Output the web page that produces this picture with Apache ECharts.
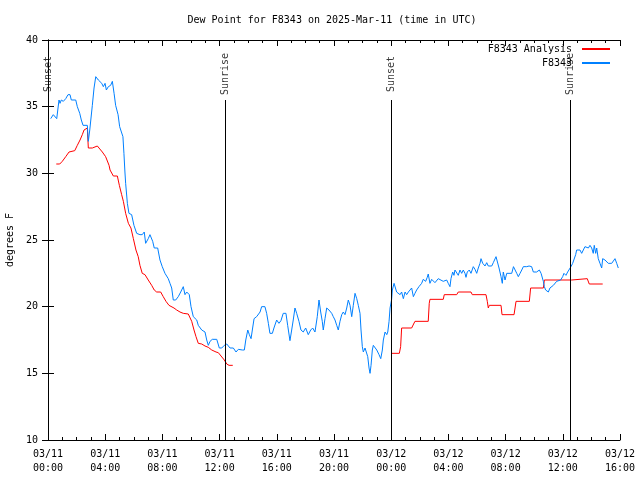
<!DOCTYPE html>
<html>
<head>
<meta charset="utf-8">
<script src="https://cdn.jsdelivr.net/npm/echarts@6/dist/echarts.min.js"></script>
<style>html,body{margin:0;padding:0;background:#fff;}#c{width:640px;height:480px;}</style>
</head>
<body>
<div id="c"></div>
<script>
// Hours since 2025-03-11 00:00 UTC
const obsHours = [0.19,0.37,0.49,0.61,0.77,0.84,0.93,1.07,1.24,1.40,1.54,1.63,1.94,2.05,2.22,2.33,2.45,2.75,2.82,2.92,2.99,3.10,3.22,3.34,3.45,3.52,3.64,3.76,3.87,3.99,4.08,4.22,4.38,4.50,4.62,4.73,4.90,5.01,5.13,5.24,5.31,5.38,5.43,5.55,5.66,5.85,6.01,6.20,6.43,6.59,6.73,6.83,7.01,7.13,7.32,7.43,7.67,7.83,7.99,8.18,8.41,8.53,8.65,8.76,8.93,9.11,9.28,9.46,9.58,9.70,9.88,10.00,10.16,10.40,10.51,10.75,10.98,11.10,11.21,11.33,11.49,11.80,11.98,12.15,12.33,12.50,12.61,12.73,12.96,13.15,13.31,13.43,13.59,13.73,13.83,13.97,14.08,14.20,14.31,14.41,14.59,14.71,14.83,14.94,15.17,15.29,15.41,15.52,15.69,15.80,15.99,16.15,16.29,16.45,16.64,16.76,16.92,17.04,17.15,17.27,17.39,17.55,17.69,17.85,18.02,18.20,18.37,18.51,18.67,18.74,18.83,18.95,19.07,19.18,19.25,19.37,19.49,19.65,19.84,19.95,20.07,20.19,20.30,20.42,20.54,20.65,20.77,20.89,21.00,21.12,21.24,21.35,21.47,21.59,21.70,21.82,21.89,21.98,22.05,22.17,22.29,22.36,22.45,22.52,22.59,22.68,22.75,22.87,22.99,23.15,23.27,23.38,23.45,23.57,23.69,23.76,23.85,23.92,24.03,24.08,24.20,24.31,24.38,24.50,24.62,24.73,24.85,24.97,25.08,25.20,25.31,25.43,25.55,25.66,25.78,25.94,26.13,26.24,26.41,26.52,26.59,26.71,26.83,26.94,27.06,27.29,27.41,27.64,27.76,27.88,27.99,28.11,28.18,28.30,28.39,28.46,28.58,28.69,28.81,28.93,29.04,29.16,29.23,29.32,29.46,29.58,29.74,29.86,29.98,30.09,30.21,30.28,30.40,30.56,30.68,30.79,31.03,31.14,31.33,31.42,31.54,31.61,31.68,31.77,31.84,31.96,32.08,32.43,32.55,32.66,32.78,32.89,33.01,33.13,33.24,33.48,33.64,33.82,33.94,34.06,34.17,34.36,34.48,34.57,34.64,34.71,34.80,34.87,34.99,35.10,35.22,35.34,35.45,35.57,35.69,35.85,35.99,36.08,36.22,36.34,36.43,36.57,36.69,36.80,36.90,36.97,37.20,37.32,37.43,37.55,37.67,37.79,37.90,38.02,38.13,38.20,38.30,38.37,38.48,38.60,38.72,38.79,38.95,39.07,39.18,39.30,39.42,39.53,39.65,39.77,39.88];
const obsValues = [34.1,34.4,34.5,34.1,35.5,35.25,35.5,35.4,35.6,35.9,35.9,35.5,35.5,35.0,34.5,34.0,33.6,33.6,32.4,33.25,33.4,35.1,36.4,37.25,37.4,37.0,37.1,36.75,36.5,36.75,36.25,36.5,36.6,36.9,36.0,35.1,34.4,33.5,33.4,32.75,31.5,30.1,29.25,27.75,27.0,26.9,26.1,25.5,25.4,25.4,25.6,24.75,25.1,25.4,24.9,24.4,24.4,23.5,23.0,22.5,22.1,21.75,21.4,20.5,20.5,20.75,21.1,21.5,20.9,21.1,20.9,20.0,19.25,19.0,18.6,18.25,18.1,17.5,17.1,17.4,17.55,17.55,16.9,16.9,17.1,17.2,17.2,16.9,16.9,16.6,16.8,16.95,16.75,16.75,17.5,18.25,17.9,17.6,18.4,19.1,19.25,19.25,19.6,20.0,20.0,19.5,18.75,18.0,18.0,18.4,19.0,18.75,18.95,19.5,19.5,18.6,17.45,18.25,19.0,19.9,19.5,18.9,18.25,18.1,18.4,17.9,18.25,18.4,18.1,18.0,19.25,20.5,19.6,18.9,18.25,19.1,19.9,19.75,19.5,19.25,19.0,18.6,18.25,18.9,19.4,19.6,19.4,19.9,20.5,20.1,19.25,20.1,21.0,20.6,20.1,19.5,18.25,17.0,16.6,16.9,17.05,16.25,15.4,15.0,15.6,16.75,17.1,17.0,16.75,16.4,16.1,16.75,17.5,18.1,17.9,18.1,18.9,19.9,20.55,21.25,21.75,21.8,21.1,21.25,20.9,21.1,20.6,21.1,20.9,21.1,21.25,21.4,20.75,21.0,21.25,21.5,21.75,22.05,21.9,22.2,22.45,21.75,22.05,22.05,21.8,22.1,22.1,21.9,21.75,22.0,21.75,21.5,22.1,22.6,22.35,22.75,22.75,22.35,22.75,22.5,22.75,22.5,22.2,22.6,22.75,22.5,23.0,22.8,22.5,22.9,23.25,23.6,23.25,23.05,23.3,23.05,23.05,23.3,23.75,23.6,22.9,22.75,22.25,21.75,22.6,22.0,22.5,22.5,23.0,23.1,22.5,22.25,22.5,22.75,23.0,23.0,23.05,23.0,22.6,22.75,22.6,22.75,22.5,22.6,21.9,21.5,21.25,21.4,21.1,21.4,21.5,21.6,21.6,21.9,22.0,22.0,22.25,22.5,22.35,22.6,22.6,23.0,23.25,23.4,23.9,24.25,24.25,24.0,24.0,24.5,24.6,24.4,24.6,24.4,24.0,24.6,24.0,24.4,23.6,23.25,22.9,23.6,23.5,23.4,23.25,23.1,23.25,23.4,23.6,23.25,22.9];

const anaHours = [0.58,0.82,1.00,1.24,1.47,1.59,1.87,2.05,2.24,2.40,2.52,2.64,2.75,2.82,3.10,3.45,3.57,3.80,4.03,4.27,4.34,4.57,4.85,4.99,5.15,5.27,5.43,5.62,5.80,5.97,6.15,6.31,6.43,6.59,6.78,7.01,7.25,7.43,7.60,7.88,8.06,8.25,8.46,8.58,8.81,9.00,9.23,9.46,9.81,9.93,10.05,10.21,10.35,10.51,10.75,10.98,11.21,11.45,11.75,11.91,12.10,12.33,12.50,12.66,12.92,
  18.0,
  24.03,24.57,24.66,24.73,25.43,25.55,25.66,26.59,26.66,26.71,27.64,27.71,28.58,28.69,29.58,29.67,30.63,30.72,30.79,30.86,31.68,31.75,32.59,32.73,33.66,33.75,34.64,34.71,36.62,36.69,37.71,37.85,38.79];
const anaValues = [30.7,30.7,30.9,31.25,31.6,31.7,31.7,32.1,32.5,32.9,33.25,33.4,33.4,31.9,31.9,32.05,32.05,31.6,31.25,30.6,30.25,29.8,29.8,29.1,28.4,27.9,27.0,26.25,25.9,25.1,24.25,23.75,23.1,22.5,22.4,22.0,21.6,21.25,21.1,21.1,20.75,20.4,20.1,19.95,19.9,19.75,19.6,19.5,19.45,19.4,18.9,18.25,17.75,17.25,17.2,17.05,16.95,16.75,16.6,16.55,16.3,16.0,15.7,15.6,15.6,
  null,
  16.5,16.5,17.0,18.4,18.4,18.25,18.9,18.9,20.25,20.55,20.55,20.9,20.9,21.1,21.1,20.9,20.9,20.4,19.9,20.1,20.1,19.4,19.4,20.4,20.4,21.4,21.4,22.0,22.0,22.1,22.1,21.7,21.7];

const eventHours = [0.0, 12.40, 23.99, 36.53];
const eventLabels = ['Sunset', 'Sunrise', 'Sunset', 'Sunrise'];

const xTickLabels = ['03/11\n00:00','03/11\n04:00','03/11\n08:00','03/11\n12:00','03/11\n16:00','03/11\n20:00','03/12\n00:00','03/12\n04:00','03/12\n08:00','03/12\n12:00','03/12\n16:00'];

const FONT = 'DejaVu Sans Mono';
const obsData = obsHours.map((h, i) => [h, obsValues[i]]);
const anaData = anaHours.map((h, i) => [h, anaValues[i]]);
const eventLines = eventHours.map(h => [{coord: [h, 10]}, {coord: [h, 35.5]}]);
const eventText = eventHours.map((h, i) => [h, 37.45, eventLabels[i]]);

const chart = echarts.init(document.getElementById('c'), null, {renderer: 'canvas'});
const axisCommon = {
  axisLine: {show: true, lineStyle: {color: '#000', width: 1}},
  splitLine: {show: false}
};
chart.setOption({
  animation: false,
  backgroundColor: '#fff',
  title: {
    text: 'Dew Point for F8343 on 2025-Mar-11 (time in UTC)',
    left: 327, textAlign: 'center', top: 10,
    textStyle: {fontFamily: FONT, fontSize: 10, fontWeight: 'normal', color: '#000'}
  },
  legend: {
    data: ['F8343 Analysis', 'F8343'],
    orient: 'vertical', align: 'right', right: 30, top: 44, padding: 0,
    itemWidth: 28, itemHeight: 2, itemGap: 4, icon: 'rect',
    textStyle: {fontFamily: FONT, fontSize: 10, color: '#000', padding: [0, 5, 0, 0]}
  },
  grid: {left: 48, right: 20, top: 40, bottom: 40, containLabel: false, outerBoundsMode: 'none'},
  xAxis: [
    Object.assign({
      type: 'value', min: 0, max: 40, interval: 4, position: 'bottom',
      axisTick: {show: true, inside: true, length: 6, lineStyle: {color: '#000'}},
      minorTick: {show: true, splitNumber: 4, length: 3, lineStyle: {color: '#000'}},
      axisLabel: {
        fontFamily: FONT, fontSize: 10, color: '#000', margin: 7, lineHeight: 14,
        formatter: v => xTickLabels[Math.round(v / 4)]
      }
    }, axisCommon),
    Object.assign({
      type: 'value', min: 0, max: 40, interval: 4, position: 'top',
      axisTick: {show: true, inside: true, length: 6, lineStyle: {color: '#000'}},
      minorTick: {show: true, splitNumber: 4, length: 3, lineStyle: {color: '#000'}},
      axisLabel: {show: false}
    }, axisCommon)
  ],
  yAxis: [
    Object.assign({
      type: 'value', min: 10, max: 40, interval: 5, position: 'left',
      name: 'degrees F', nameLocation: 'middle', nameGap: 32, nameRotate: 90,
      nameTextStyle: {fontFamily: FONT, fontSize: 10, color: '#000'},
      axisTick: {show: true, inside: true, length: 6, lineStyle: {color: '#000'}},
      axisLabel: {fontFamily: FONT, fontSize: 10, color: '#000', margin: 10}
    }, axisCommon),
    Object.assign({
      type: 'value', min: 10, max: 40, interval: 5, position: 'right',
      axisTick: {show: true, inside: true, length: 6, lineStyle: {color: '#000'}},
      axisLabel: {show: false}
    }, axisCommon)
  ],
  series: [
    {
      name: 'F8343 Analysis', type: 'line', data: anaData, showSymbol: false, symbol: 'none',
      connectNulls: false, color: '#ff0000', lineStyle: {color: '#ff0000', width: 1}, z: 3
    },
    {
      name: 'F8343', type: 'line', data: obsData, showSymbol: false, symbol: 'none',
      color: '#0080ff', lineStyle: {color: '#0080ff', width: 1}, z: 3
    },
    {
      name: 'events', type: 'line', data: [], silent: true,
      markLine: {
        silent: true, symbol: 'none', animation: false,
        lineStyle: {color: '#000', width: 1, type: 'solid'},
        label: {show: false},
        data: eventLines
      }
    },
    {
      name: 'eventText', type: 'scatter', data: eventText, symbolSize: 0, silent: true,
      label: {
        show: true, position: 'inside', rotate: 90,
        formatter: p => p.data[2],
        fontFamily: FONT, fontSize: 10, color: '#000'
      }
    }
  ]
});
</script>
</body>
</html>
